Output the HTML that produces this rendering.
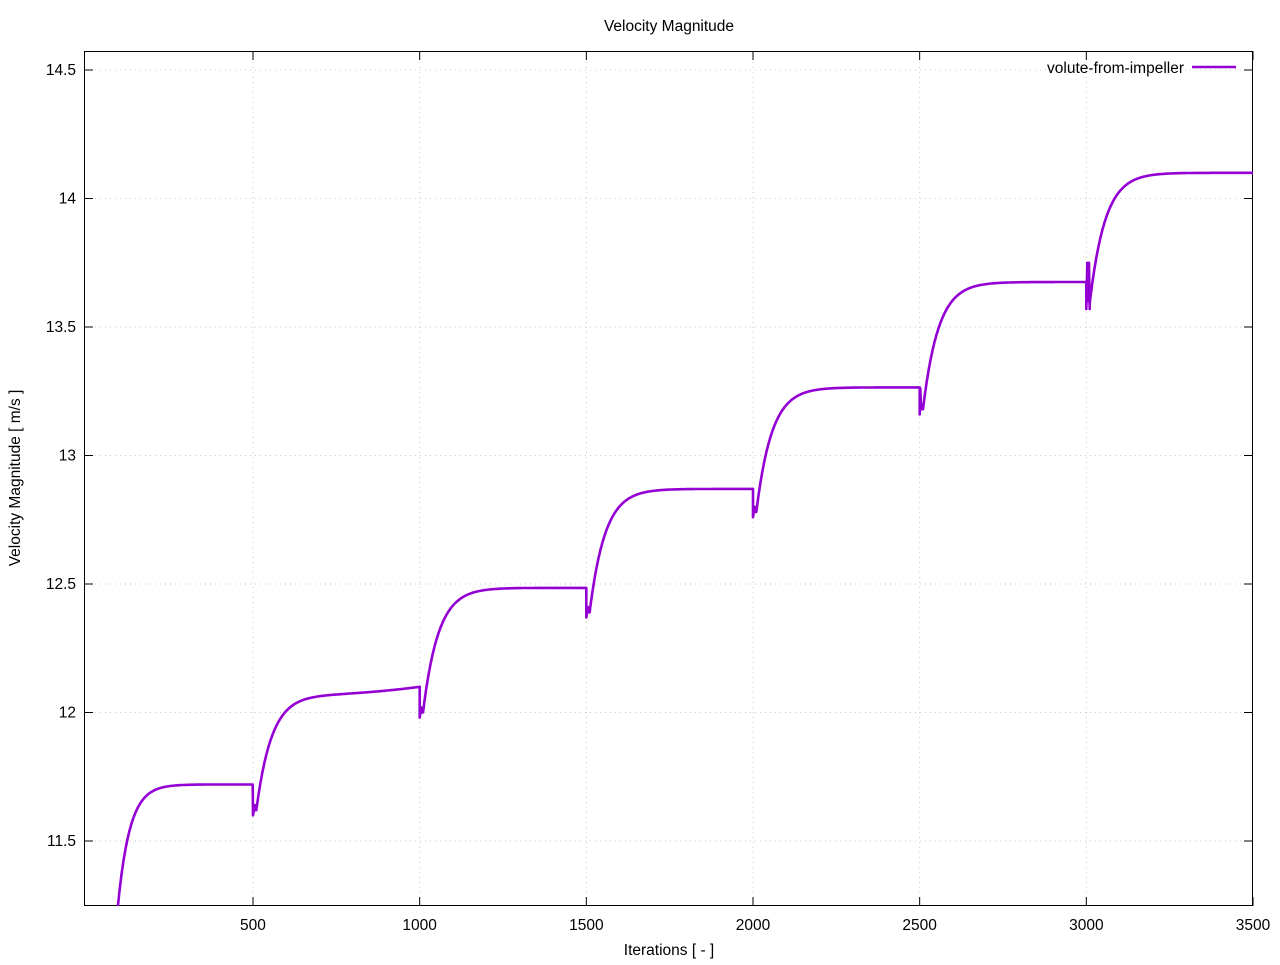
<!DOCTYPE html>
<html><head><meta charset="utf-8"><style>
html,body{margin:0;padding:0;background:#fff;}
svg text{font-family:"Liberation Sans",sans-serif;font-size:15.5px;fill:#000;}
</style></head><body>
<svg id="s" width="1280" height="960" xmlns="http://www.w3.org/2000/svg">
<rect width="1280" height="960" fill="#fff"/>
<g id="grid" stroke="#c8c8c8" stroke-width="1" stroke-dasharray="1,4"></g>
<g id="ticks" stroke="#000" stroke-width="1"></g>
<rect x="84.5" y="51.5" width="1168" height="854" fill="none" stroke="#000" stroke-width="1"/>
<g id="labels"></g>
<text x="669" y="31" text-anchor="middle">Velocity Magnitude</text>
<text x="669" y="955" text-anchor="middle">Iterations [ - ]</text>
<text transform="translate(20,478) rotate(-90)" text-anchor="middle">Velocity Magnitude [ m/s ]</text>
<text x="1184" y="73" text-anchor="end">volute-from-impeller</text>
<line x1="1192" y1="67" x2="1236" y2="67" stroke="#9400d3" stroke-width="2.5"/>
<clipPath id="c"><rect x="84" y="51" width="1169" height="855"/></clipPath>
<path id="p" fill="none" stroke="#9400d3" stroke-width="2.6" stroke-linejoin="round" clip-path="url(#c)"/>
</svg>
<script>
var NS="http://www.w3.org/2000/svg";
function X(v){return 86.33+v/3;}
function Y(v){return 712.5-(v-12)*257;}
function el(p,t,a,txt){var e=document.createElementNS(NS,t);for(var k in a)e.setAttribute(k,a[k]);if(txt)e.textContent=txt;document.getElementById(p).appendChild(e);}
for(var v=500;v<=3500;v+=500){var x=X(v);
 if(v<3500)el("grid","line",{x1:x,y1:52,x2:x,y2:905});
 el("ticks","line",{x1:x,y1:906,x2:x,y2:897});el("ticks","line",{x1:x,y1:51,x2:x,y2:60});
 el("labels","text",{x:x,y:930,"text-anchor":"middle"},String(v));}
for(var i=0;i<7;i++){var val=11.5+i*0.5,y=Y(val);
 el("grid","line",{x1:85,y1:y,x2:1252,y2:y});
 el("ticks","line",{x1:84,y1:y,x2:93,y2:y});el("ticks","line",{x1:1253,y1:y,x2:1244,y2:y});
 el("labels","text",{x:76,y:y+5,"text-anchor":"end"},(val%1==0?String(val):val.toFixed(1)));}
var L=[11.72,12.07,12.485,12.87,13.265,13.675,14.10];
var D=[0,11.60,11.98,12.37,12.76,13.16,13.57];
var pts=[];
for(var t=85;t<=500;t+=2){var v=L[0]-(L[0]-11.1)*Math.exp(-(t-85)/36);pts.push([t,v]);}
for(var k=1;k<7;k++){
 var t0=500*k;
 pts.push([t0,D[k]]);
 if(k==5){pts.push([t0+2,13.26]);pts.push([t0+4,13.18]);pts.push([t0+6,13.20]);}
 if(k==6){pts.push([t0+3,13.75]);pts.push([t0+5,13.60]);pts.push([t0+8,13.75]);pts.push([t0+10,13.57]);}
 else {pts.push([t0+5,D[k]+0.04]);pts.push([t0+8,D[k]+0.02]);}
 var te=(k==6)?3500:t0+500;
 for(var t=t0+10;t<=te;t+=2){
  var s=t-t0-10, lv=L[k];
  if(k==1) lv=12.07+0.03*Math.pow(Math.max(0,(t-650)/350),2);
  var v=lv-(lv-D[k]-0.02)*Math.exp(-s/46);
  pts.push([t,v]);}
}
var d="";for(var i=0;i<pts.length;i++){d+=(i?"L":"M")+X(pts[i][0]).toFixed(1)+" "+Y(pts[i][1]).toFixed(1);}
document.getElementById("p").setAttribute("d",d);
</script>
</body></html>
